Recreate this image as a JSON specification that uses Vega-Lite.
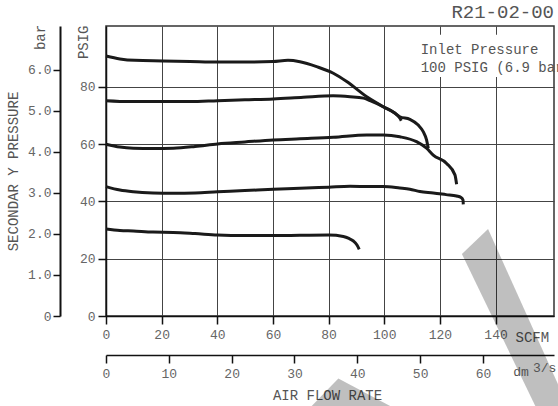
{
  "$schema": "https://vega.github.io/schema/vega-lite/v6.json",
  "width": 448,
  "height": 290,
  "autosize": {"type": "none"},
  "padding": {"left": 106, "top": 26, "right": 4, "bottom": 90},
  "background": "white",
  "config": {
    "font": "Liberation Mono",
    "view": {"stroke": "#333", "strokeWidth": 1.5},
    "axis": {
      "labelFlush": false,
      "labelOverlap": false,
      "labelFont": "Liberation Mono",
      "labelFontSize": 13,
      "labelColor": "#666",
      "titleFont": "Liberation Mono",
      "titleFontSize": 14,
      "titleFontWeight": "normal",
      "titleColor": "#555",
      "domainColor": "#111",
      "tickColor": "#111",
      "gridColor": "#444"
    }
  },
  "datasets": {
    "one": [{}],
    "curves": [
      {"c": "A", "scfm": 0, "psig": 90.8}, {"c": "A", "scfm": 5.0, "psig": 89.8}, {"c": "A", "scfm": 10.4, "psig": 89.3},
      {"c": "A", "scfm": 20.5, "psig": 89.1}, {"c": "A", "scfm": 30.2, "psig": 88.9}, {"c": "A", "scfm": 40.2, "psig": 88.7},
      {"c": "A", "scfm": 49.9, "psig": 88.7}, {"c": "A", "scfm": 60.0, "psig": 88.9}, {"c": "A", "scfm": 65.4, "psig": 89.3},
      {"c": "A", "scfm": 69.7, "psig": 88.8}, {"c": "A", "scfm": 75.7, "psig": 87.1}, {"c": "A", "scfm": 81.7, "psig": 84.8},
      {"c": "A", "scfm": 86.5, "psig": 81.9}, {"c": "A", "scfm": 93.7, "psig": 76.6}, {"c": "A", "scfm": 99.6, "psig": 73.1},
      {"c": "A", "scfm": 105.6, "psig": 69.1}, {"c": "A", "scfm": 106.1, "psig": 68.2},
      {"c": "B", "scfm": 0, "psig": 75.2}, {"c": "B", "scfm": 8.6, "psig": 74.9}, {"c": "B", "scfm": 18.2, "psig": 74.9},
      {"c": "B", "scfm": 30.2, "psig": 74.9}, {"c": "B", "scfm": 40.1, "psig": 75.2}, {"c": "B", "scfm": 49.9, "psig": 75.5},
      {"c": "B", "scfm": 60.1, "psig": 75.8}, {"c": "B", "scfm": 70.9, "psig": 76.4}, {"c": "B", "scfm": 81.6, "psig": 76.9},
      {"c": "B", "scfm": 87.7, "psig": 76.6}, {"c": "B", "scfm": 92.5, "psig": 76.1}, {"c": "B", "scfm": 94.9, "psig": 75.2},
      {"c": "B", "scfm": 99.6, "psig": 73.1}, {"c": "B", "scfm": 103.8, "psig": 70.9}, {"c": "B", "scfm": 105.6, "psig": 69.6},
      {"c": "B", "scfm": 109.2, "psig": 68.7}, {"c": "B", "scfm": 112.2, "psig": 66.7}, {"c": "B", "scfm": 114.0, "psig": 64.4},
      {"c": "B", "scfm": 115.2, "psig": 61.5}, {"c": "B", "scfm": 115.8, "psig": 58.6},
      {"c": "C", "scfm": 0, "psig": 60.0}, {"c": "C", "scfm": 5.0, "psig": 59.0}, {"c": "C", "scfm": 9.8, "psig": 58.6},
      {"c": "C", "scfm": 16.9, "psig": 58.5}, {"c": "C", "scfm": 24.2, "psig": 58.6}, {"c": "C", "scfm": 32.0, "psig": 59.2},
      {"c": "C", "scfm": 40.1, "psig": 60.1}, {"c": "C", "scfm": 49.9, "psig": 60.8}, {"c": "C", "scfm": 60.1, "psig": 61.5},
      {"c": "C", "scfm": 69.7, "psig": 61.9}, {"c": "C", "scfm": 81.7, "psig": 62.4}, {"c": "C", "scfm": 93.7, "psig": 63.2},
      {"c": "C", "scfm": 99.6, "psig": 63.2}, {"c": "C", "scfm": 105.6, "psig": 62.6}, {"c": "C", "scfm": 111.6, "psig": 60.9},
      {"c": "C", "scfm": 115.2, "psig": 58.6}, {"c": "C", "scfm": 117.6, "psig": 56.2}, {"c": "C", "scfm": 122.4, "psig": 53.3},
      {"c": "C", "scfm": 125.4, "psig": 49.3}, {"c": "C", "scfm": 126.0, "psig": 46.0},
      {"c": "D", "scfm": 0, "psig": 45.2}, {"c": "D", "scfm": 5.0, "psig": 44.0}, {"c": "D", "scfm": 9.8, "psig": 43.4},
      {"c": "D", "scfm": 16.9, "psig": 43.0}, {"c": "D", "scfm": 24.2, "psig": 42.9}, {"c": "D", "scfm": 32.0, "psig": 43.0},
      {"c": "D", "scfm": 40.1, "psig": 43.4}, {"c": "D", "scfm": 49.9, "psig": 43.8}, {"c": "D", "scfm": 60.1, "psig": 44.3},
      {"c": "D", "scfm": 69.7, "psig": 44.6}, {"c": "D", "scfm": 80.1, "psig": 45.0}, {"c": "D", "scfm": 87.7, "psig": 45.3},
      {"c": "D", "scfm": 94.9, "psig": 45.2}, {"c": "D", "scfm": 99.6, "psig": 45.2}, {"c": "D", "scfm": 105.6, "psig": 44.7},
      {"c": "D", "scfm": 109.2, "psig": 44.3}, {"c": "D", "scfm": 112.8, "psig": 43.5}, {"c": "D", "scfm": 117.6, "psig": 43.0},
      {"c": "D", "scfm": 122.2, "psig": 42.4}, {"c": "D", "scfm": 126.0, "psig": 41.9}, {"c": "D", "scfm": 127.6, "psig": 41.4},
      {"c": "D", "scfm": 128.3, "psig": 40.5}, {"c": "D", "scfm": 128.4, "psig": 39.0},
      {"c": "E", "scfm": 0, "psig": 30.4}, {"c": "E", "scfm": 5.0, "psig": 29.9}, {"c": "E", "scfm": 9.8, "psig": 29.7},
      {"c": "E", "scfm": 16.9, "psig": 29.3}, {"c": "E", "scfm": 24.2, "psig": 29.2}, {"c": "E", "scfm": 32.0, "psig": 28.8},
      {"c": "E", "scfm": 40.1, "psig": 28.3}, {"c": "E", "scfm": 49.9, "psig": 28.1}, {"c": "E", "scfm": 60.1, "psig": 28.1},
      {"c": "E", "scfm": 69.7, "psig": 28.2}, {"c": "E", "scfm": 80.1, "psig": 28.3}, {"c": "E", "scfm": 85.3, "psig": 27.8},
      {"c": "E", "scfm": 87.3, "psig": 27.1}, {"c": "E", "scfm": 88.9, "psig": 26.2}, {"c": "E", "scfm": 90.2, "psig": 24.8},
      {"c": "E", "scfm": 91.0, "psig": 23.3}
    ],
    "stripes": [
      {"s": 1, "i": 0, "scfm": 127.9, "psig": 21.66},
      {"s": 1, "i": 1, "scfm": 137.3, "psig": 30.39},
      {"s": 1, "i": 2, "scfm": 168.2, "psig": -36.3},
      {"s": 1, "i": 3, "scfm": 156.7, "psig": -36.3},
      {"s": 2, "i": 0, "scfm": 83.5, "psig": -21.8},
      {"s": 2, "i": 1, "scfm": 111.5, "psig": -36.3},
      {"s": 2, "i": 2, "scfm": 69.1, "psig": -36.3}
    ]
  },
  "layer": [
    {
      "layer": [
        {
          "data": {"name": "curves"},
          "mark": {"type": "line", "color": "#1a1a1a", "strokeWidth": 3, "interpolate": "monotone"},
          "encoding": {
            "x": {
              "field": "scfm", "type": "quantitative",
              "scale": {"domain": [0, 161], "nice": false, "zero": false},
              "axis": {
                "values": [0, 20, 40, 60, 80, 100, 120, 140],
                "grid": true, "gridWidth": 1,
                "domainWidth": 1.5, "tickWidth": 1.5, "tickSize": 8, "labelPadding": 4,
                "title": "SCFM", "titleX": 409, "titleY": 25, "titleAlign": "left", "titleBaseline": "alphabetic", "titleAngle": 0
              }
            },
            "y": {
              "field": "psig", "type": "quantitative",
              "scale": {"domain": [0, 101.3], "nice": false, "zero": false},
              "axis": {
                "values": [0, 20, 40, 60, 80],
                "grid": true, "gridWidth": 1,
                "domainWidth": 1.5, "tickWidth": 1.5, "tickSize": 8, "labelPadding": 3,
                "title": "PSIG", "titleAngle": 270, "titleX": -19, "titleY": -1, "titleAlign": "right", "titleBaseline": "alphabetic"
              }
            },
            "detail": {"field": "c"}
          }
        },
        {
          "data": {"name": "one"},
          "mark": {"type": "rect", "fill": "white"},
          "encoding": {
            "x": {"datum": 111, "type": "quantitative", "scale": {"domain": [0, 161], "nice": false, "zero": false}},
            "x2": {"datum": 159.5},
            "y": {"datum": 83.5, "type": "quantitative", "scale": {"domain": [0, 101.3], "nice": false, "zero": false}},
            "y2": {"datum": 98.2}
          }
        },
        {
          "data": {"name": "one"},
          "mark": {"type": "text", "text": "Inlet Pressure", "align": "left", "baseline": "alphabetic", "fontSize": 14, "color": "#555", "clip": false},
          "encoding": {
            "x": {"datum": 113.1, "type": "quantitative", "scale": {"domain": [0, 161], "nice": false, "zero": false}},
            "y": {"datum": 91.5, "type": "quantitative", "scale": {"domain": [0, 101.3], "nice": false, "zero": false}}
          }
        },
        {
          "data": {"name": "one"},
          "mark": {"type": "text", "text": "100 PSIG (6.9 bar)", "align": "left", "baseline": "alphabetic", "fontSize": 14, "color": "#555", "clip": false},
          "encoding": {
            "x": {"datum": 113.1, "type": "quantitative", "scale": {"domain": [0, 161], "nice": false, "zero": false}},
            "y": {"datum": 85.3, "type": "quantitative", "scale": {"domain": [0, 101.3], "nice": false, "zero": false}}
          }
        },
        {
          "data": {"name": "one"},
          "mark": {"type": "text", "text": "R21-02-00", "align": "right", "baseline": "alphabetic", "fontSize": 19, "color": "#555", "clip": false},
          "encoding": {
            "x": {"datum": 161, "type": "quantitative", "scale": {"domain": [0, 161], "nice": false, "zero": false}},
            "y": {"datum": 104.1, "type": "quantitative", "scale": {"domain": [0, 101.3], "nice": false, "zero": false}}
          }
        },
        {
          "data": {"name": "stripes"},
          "mark": {"type": "line", "fill": "#000", "fillOpacity": 0.25, "strokeWidth": 0, "clip": false, "interpolate": "linear"},
          "encoding": {
            "x": {"field": "scfm", "type": "quantitative", "scale": {"domain": [0, 161], "nice": false, "zero": false}},
            "y": {"field": "psig", "type": "quantitative", "scale": {"domain": [0, 101.3], "nice": false, "zero": false}},
            "detail": {"field": "s"},
            "order": {"field": "i"}
          }
        }
      ]
    },
    {
      "data": {"name": "one"},
      "layer": [
        {
          "mark": {"type": "text", "text": "dm", "align": "left", "baseline": "alphabetic", "fontSize": 13, "color": "#555", "clip": false},
          "encoding": {
            "x": {
              "datum": 64.8, "type": "quantitative",
              "scale": {"domain": [0, 71.3], "nice": false, "zero": false},
              "axis": {
                "orient": "bottom", "offset": 39,
                "values": [0, 10, 20, 30, 40, 50, 60],
                "grid": false, "domainWidth": 1.5, "tickWidth": 1.5, "tickSize": 8, "labelPadding": 4,
                "title": "AIR FLOW RATE", "titleX": 221, "titleY": 44.5, "titleAlign": "center", "titleBaseline": "alphabetic"
              }
            },
            "y": {
              "datum": -1.463, "type": "quantitative",
              "scale": {"domain": [0, 7.07], "nice": false, "zero": false},
              "axis": {
                "orient": "left", "offset": 46,
                "values": [0, 1, 2, 3, 4, 5, 6],
                "labelExpr": "datum.value == 0 ? '0' : format(datum.value, '.1f')",
                "grid": false, "domainWidth": 2, "tickWidth": 1.5, "tickSize": 7, "labelPadding": 2,
                "title": "SECONDAR Y PRESSURE", "titleAngle": 270, "titleX": -43, "titleY": 145, "titleAlign": "center", "titleBaseline": "alphabetic"
              }
            }
          }
        },
        {
          "mark": {"type": "text", "text": "3/s", "align": "left", "baseline": "alphabetic", "fontSize": 13, "color": "#555", "clip": false},
          "encoding": {
            "x": {"datum": 67.96, "type": "quantitative", "scale": {"domain": [0, 71.3], "nice": false, "zero": false}},
            "y": {"datum": -1.366, "type": "quantitative", "scale": {"domain": [0, 7.07], "nice": false, "zero": false}}
          }
        },
        {
          "mark": {"type": "text", "text": "bar", "align": "right", "baseline": "alphabetic", "angle": 270, "fontSize": 14, "color": "#555", "clip": false},
          "encoding": {
            "x": {"datum": -9.71, "type": "quantitative", "scale": {"domain": [0, 71.3], "nice": false, "zero": false}},
            "y": {"datum": 7.098, "type": "quantitative", "scale": {"domain": [0, 7.07], "nice": false, "zero": false}}
          }
        }
      ]
    }
  ],
  "resolve": {
    "scale": {"x": "independent", "y": "independent"},
    "axis": {"x": "independent", "y": "independent"}
  }
}
